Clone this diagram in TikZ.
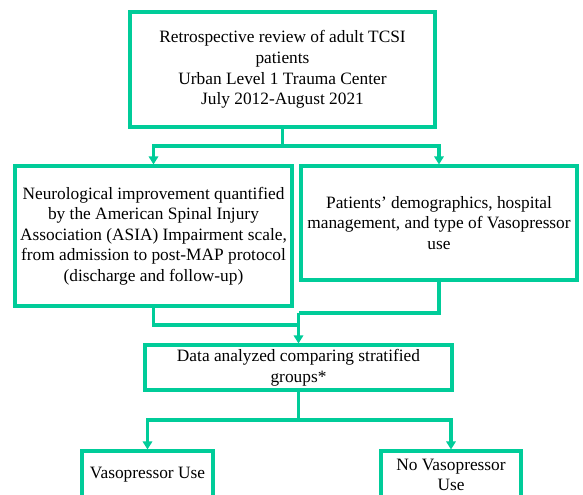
\documentclass[tikz,border=0pt]{standalone}
\usepackage{fontspec}
\setmainfont{Liberation Serif}
\usetikzlibrary{arrows.meta}
\definecolor{flowgreen}{RGB}{0,204,153}
\begin{document}
\begin{tikzpicture}[x=0.75pt,y=-0.75pt,
  box/.style={draw=flowgreen,line width=2.3pt,fill=white,align=center,inner sep=0pt,
    font=\fontsize{13}{15.4}\selectfont},
  link/.style={draw=flowgreen,line width=2.3pt},
  arr/.style={link,-{Triangle[width=7pt,length=6pt]}}]
\useasboundingbox (0,0) rectangle (583,494);
\fill[white] (0,0) rectangle (583,494);
\node[box,minimum width=305*0.75pt,minimum height=115*0.75pt] (top) at (282.5,69.5)
  {Retrospective review of adult TCSI\\patients\\Urban Level 1 Trauma Center\\July 2012-August 2021};
\node[box,minimum width=277*0.75pt,minimum height=140*0.75pt] (left) at (153.5,236)
  {Neurological improvement quantified\\by the American Spinal Injury\\Association (ASIA) Impairment scale,\\from admission to post-MAP protocol\\(discharge and follow-up)};
\node[box,minimum width=276*0.75pt,minimum height=114*0.75pt] (right) at (439,223)
  {Patients’ demographics, hospital\\management, and type of Vasopressor\\use};
\node[box,minimum width=307*0.75pt,minimum height=45*0.75pt] (mid) at (298.5,367.5)
  {Data analyzed comparing stratified\\groups*};
\node[box,minimum width=131*0.75pt,minimum height=48*0.75pt] (vu) at (147.5,475)
  {Vasopressor Use};
\node[box,minimum width=140*0.75pt,minimum height=48*0.75pt] (nvu) at (451,475)
  {No Vasopressor\\Use};
\coordinate (s1) at (282.5,146);
\coordinate (j1) at (298.5,325);
\coordinate (j2) at (298.5,313);
\coordinate (s2) at (298.5,420);
\draw[link] (top.south) -- (s1);
\draw[arr] (s1) -| (left.north);
\draw[arr] (s1) -| (right.north);
\draw[link] (left.south) |- (j1);
\draw[link] (right.south) |- (j2);
\draw[arr] (j2) -- (mid.north);
\draw[link] (mid.south) -- (s2);
\draw[arr] (s2) -| (vu.north);
\draw[arr] (s2) -| (nvu.north);
\end{tikzpicture}
\end{document}
